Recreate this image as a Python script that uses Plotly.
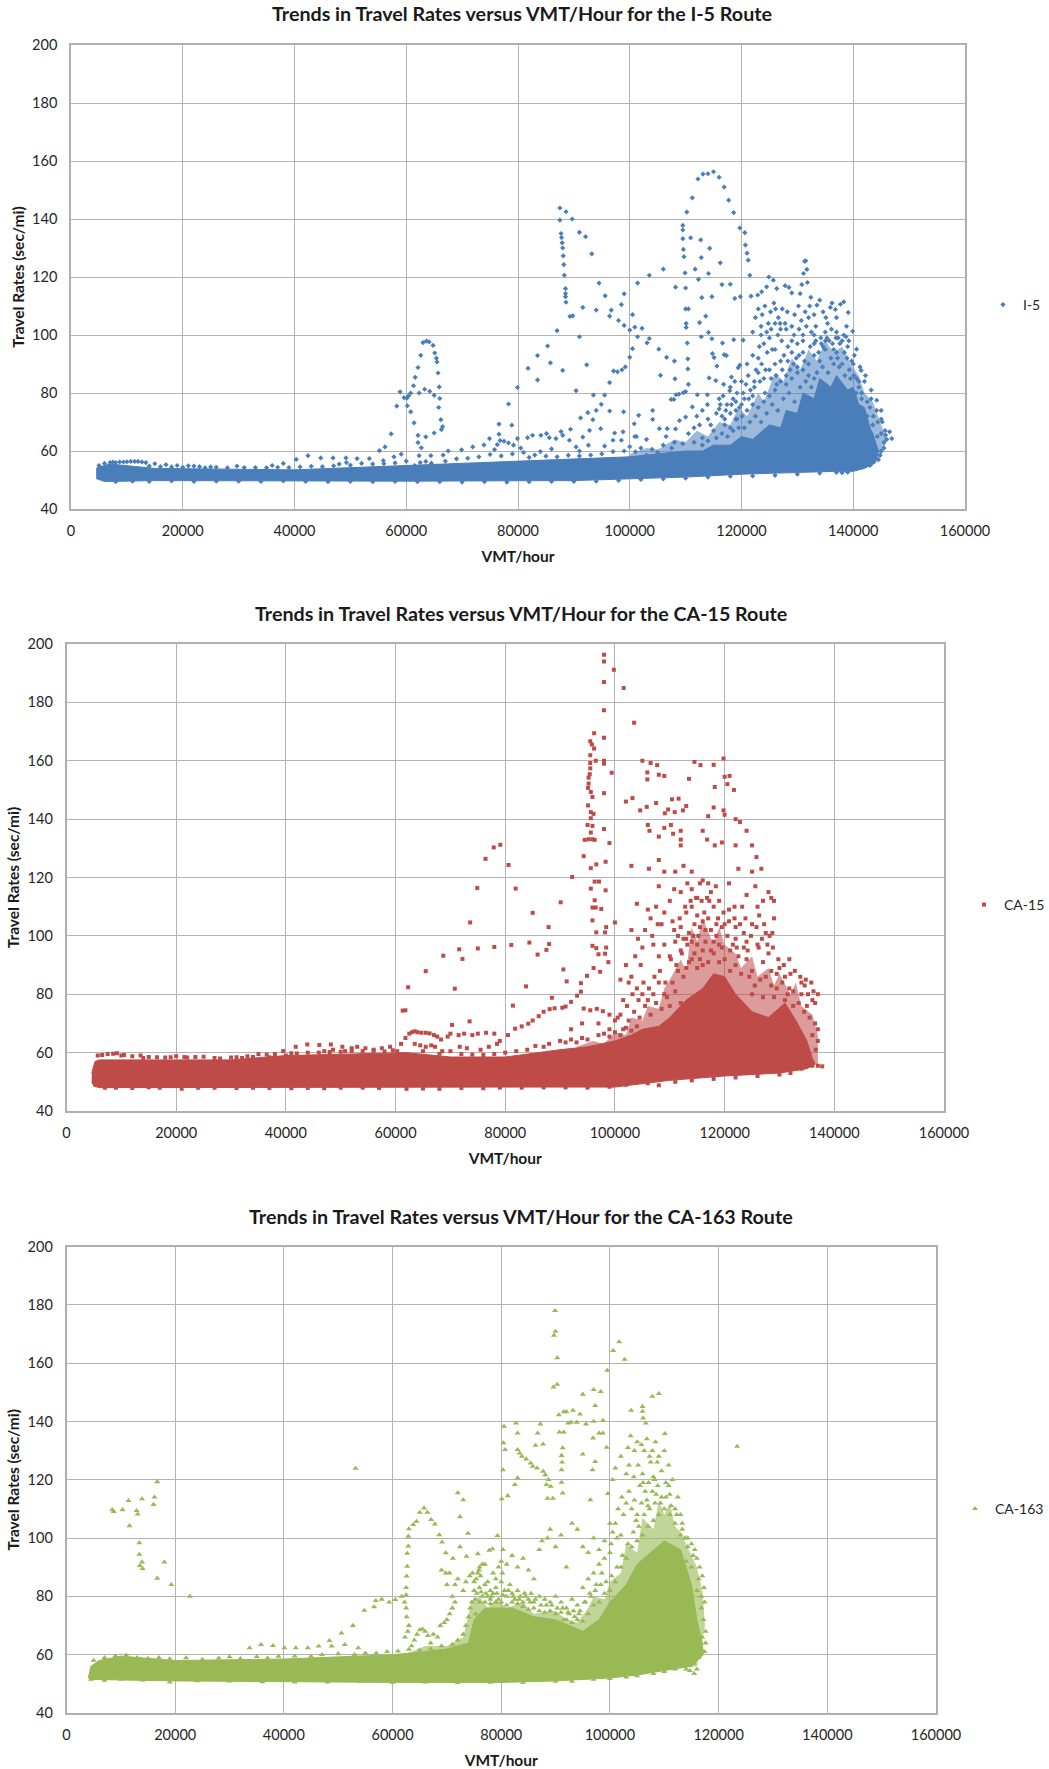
import plotly.graph_objects as go

W, H = 1049, 1769
x_ticks = [0, 20000, 40000, 60000, 80000, 100000, 120000, 140000, 160000]
y_ticks = [40, 60, 80, 100, 120, 140, 160, 180, 200]
x_title = "VMT/hour"
y_title = "Travel Rates (sec/mi)"

# ---------- I-5 (VMT in thousands, travel rate) ----------
i5_title = "Trends in Travel Rates versus VMT/Hour for the I-5 Route"
i5_core_x = [4.5, 5, 6, 7, 15, 40, 60, 80, 90, 100, 105, 110, 113, 115, 118, 120, 122, 125, 127, 128, 130, 131, 133, 134, 136, 137, 139, 140, 141, 142, 143, 143.5, 144.5, 144, 142, 140, 137, 130, 120, 110, 100, 90, 60, 40, 15, 7, 6, 4.5]
i5_core_y = [54, 54.5, 55, 55.5, 54, 53.5, 55, 56.5, 57, 58, 59, 60, 60, 62, 62, 65, 64, 69, 68, 74, 73, 80, 78, 85, 82, 86, 81, 82, 76, 75, 68, 66, 60, 56, 54, 53, 53, 52.5, 52, 51, 50.5, 49.8, 49.6, 49.8, 49.8, 49.5, 49.5, 50.5]
i5_halo_x = [100, 103, 105, 108, 110, 112, 114, 116, 118, 119.5, 121, 123, 124, 126, 127.5, 129, 130.5, 132, 133.5, 135, 136.5, 138, 139.5, 141, 142, 143.5, 145, 146, 145, 142, 130, 100]
i5_halo_y = [59, 61, 60.5, 64, 63, 67, 65, 70, 69, 75, 72, 80, 77, 87, 84, 92, 88, 95, 91, 98, 94, 96, 90, 86, 80, 77, 69, 64, 58, 55, 54, 52]
i5_points = [
(87.5,143.8),(88.6,142.5),(87.5,139.6),(89.7,140),(87.7,135),(87.8,133.6),(87.9,131.8),(88,130),(88.1,127.3),(88.2,124.3),(88.3,120.6),(91,135.4),(92.1,133.9),(93.2,128),
(88.5,116),(88.5,114.3),(88.5,113.2),(88.6,111.3),(94.5,117.9),(95.6,113.5),(99,114.2),(98.5,110.5),(91.6,109.5),(94,108.6),(96.7,108.6),(96.4,106.5),(89.3,106.4),(89.8,106.6),(98,105),(99,103.3),(87,101.5),(91,99.4),(100,101.7),(100.9,102.7),(102.2,102.3),(100.5,107),(101.4,117.9),(103.5,120.6),(106,122.7),(101.4,99.4),(103.5,98.8),(103.1,97.3),(100.5,95.3),(105.2,95.1),(85.3,96.2),(83.5,92.9),(81.8,88.5),(85.8,90.4),(88,87.8),(83.5,84.5),(92.3,89.7),(100,92.3),(99.2,89),(98.6,88),(97.8,87.3),(97.1,87.6),(96.4,83.6),(90.4,80.8),(106.6,92.3),(108,91),(105.5,86.1),(108.1,84.9),(107.4,77.8),(107.9,77.8),(108.3,79.4),(108.8,79.6),(109.6,80.1),(110,80.5),(110.5,83),(110.4,88.3),(110.4,91.8),(110.3,97.2),(110.1,102.6),(110.1,104),(110,109),(110.5,109),(110,116.2),(108.2,116.5),(109.9,121.4),(109.7,127),(109.6,129.5),(109.5,133.2),(109.5,136.2),(109.5,137.8),(110.2,142.4),(111.2,147.3),(112.2,153.8),(113.1,155.5),(114,155.6),(115,156.3),(116,154.4),(116.9,151),(117.7,146.5),(118.6,142.2),(119.7,136.9),(120.6,135.3),(120.7,131),(121,128.2),(121.2,125.8),(121.5,120.6),(110.9,133.5),(112.7,132.8),(112.8,126.7),(114.3,129.9),(116.2,124.9),(111.7,122.7),(114.1,121.2),(112.3,119.2),(112.9,112.9),(114.7,113.2),(116.5,117.4),(118,117.5),(118.8,112.6),(119.8,113.2),(113.6,106.5),(112.5,104.3),(114.1,100.9),(112.8,99.4),(114.7,98.7),(116.6,97.2),(118.6,98.4),(120.3,98.2),(114.8,93.6),(115.1,92.2),(116.9,93.2),(117.3,92.9),(115.6,89.3),(114.2,85.2),(115.4,84.3),(116.8,83),(119.7,89.6),(119.4,88.7),(118.2,85.5),(118.8,84),(121.7,113.4),(122.9,113.8),(123.6,114.9),(124.5,116.6),(124.9,120),(125.7,118.9),(126.3,116),(127.8,117),(128.5,116.4),(129,114.5),(130.5,114.3),(130.8,117.4),(131.8,118.1),(131.1,121.2),(131.7,122.6),(131.3,125.4),(131.5,125.6),(133.5,110.3),(135.9,109.5),(136.8,108.8),(137.7,110.6),(138.3,111.4),(139.1,107.8),(139.9,101.3),(138.7,99.4),(140.6,95.1),(141.4,87.8),(143.2,78),(144.2,77.5),(145,74),(146.5,66.6),(146.9,64.3),
(55.2,60.1),(56.2,61.4),(57.3,65.9),(58.3,75.5),(58.9,80.4),(59.6,78.4),(60.1,78.2),(60.2,75.6),(60.8,73.5),(61.4,69.7),(62.1,65.4),(62.1,62.9),(62.7,61.1),(63.5,64.9),(65,66.2),(66.3,67.4),(66.5,68.4),(66.2,70.8),(65.8,75),(66,78.1),(65.9,82.1),(65.7,86.9),(65.5,90.7),(65.4,92),(65.1,93.8),(64.8,96.4),(64.1,97.6),(63.6,97.9),(63,97.4),(62.6,93),(62.1,88.8),(61.6,85.4),(61.3,82.5),(60.8,80),(60.4,79),(62.3,80),(63.3,81.3),(64.2,80.6),(65,79.2),
(61.5,55),(62.5,56),(63.5,56.4),(64.5,55.8),(65.5,54.8),(38,55.7),(40.3,57.1),(42.4,58.4),(44.7,57.6),(46.9,57.6),(49.2,57.6),(49.3,56),(51.2,57.4),(53.4,57.4),(55.9,56.7),(57.8,58),(59.1,58.9),(62.3,58.4),(64.4,58.4),(66.6,58.6),(67.5,60),(69.9,60.4),(71.9,61.4),(73.9,62.1),(74.9,64.3),(76.6,69.3),(76.6,65.8),(78.3,76.2),(78.9,68.9),(79.9,81.9),(79.9,64.3),(75.8,60.5),(76.3,62.2),(76.8,63.6),(77.5,63.4),(78.3,62.8),(79.2,62),(80.5,61),
(7,56),(7.5,56.2),(8,56),(8.7,56.2),(9.4,56.2),(10,56.3),(10.7,56.4),(11.4,56.4),(12,56.4),(12.7,56.2),(13.4,56),(15,55.6),(17,55.3),(19,55),(22,54.8),(25,54.5),(29.7,54.8),(33,54.3),(36,55),
(81.7,64.6),(82.6,65.4),(84.1,65.4),(85.6,64.6),(86.8,64.3),(88,65.4),(89.2,63.7),(90.4,61.4),(91,60),(85.1,66),(89.4,67.5),(87.7,66.7),(92.8,67.1),(91.6,64.8),(94.8,67.7),(97.3,66.2),(98.8,66.6),(97,63.7),(98.5,63.7),(100.9,65),(101.2,65),(100.8,69.4),(101.6,72.3),(104.1,74),(104.1,70.9),(98.9,73.5),(96.4,73.8),(94.9,76.1),(94,74),(93.4,70.8),(92.5,73.2),(91.2,71.4),(93.5,79.3),(95.5,79.3),(105.3,67.7),(106.7,67.7),(108.2,67.6),(110,71.7),(111.2,75.2),(112.1,79.4),(113.9,79.4),(113.9,76),(116,74.5),(116.7,79),(117.9,80.8),(108.9,70.5),(106.5,65),(103,64),(100,61.5),(95.5,61.7),(92.6,62),(86,60.7),(84,59.8),(81,59.5),
(116.5,72),(117.4,76),(118,73),(118.5,78),(119.2,80),(119.6,75),(120.1,72),(120.5,78),(120.8,83),(121.2,86),(121.6,81),(122,76),(122.3,84),(122.6,88),(123,92),(123.2,96),(123.6,90),(124,85),(124.2,80),(124.6,94),(125,99),(125.3,102),(125.5,95),(126,90),(126.2,86),(126.5,100),(126.9,104),(127.2,98),(127.6,93),(128,102),(128.3,96),(128.7,88),(129,94),(129.4,100),(129.8,92),(130,97),(130.3,102),(130.7,105),(131,98),(131.4,108),(131.6,103),(132,106),(132.2,110),(132.5,101),(133,97),(133.3,103),(133.8,94),(134.2,99),(134.6,96),(135,101),(135.4,104),(135.7,98),(136.1,102),(136.5,95),(136.9,99),(137.2,92),(137.6,97),(138,90),(138.4,94),(138.9,92),(139.3,88),(139.7,91),(140.1,86),(140.6,85),(141,82),(141.5,80),(142,84),(142.5,77),(143,75),(143.6,72),(144.4,70),(145.2,70),(145.7,67),(146,64),(145.5,63),(145,60),(144.5,57),(143.5,56),(143,55),(141.8,54.6),(139,52.7),(138,52.5),
(122.5,106),(123,109),(123.7,107),(124.2,110),(125.2,108),(125.8,111),(126.6,106),(127.3,109),(128.2,108),(122,101),(123.5,100),(124.8,104),(126.1,109),(127.8,104),(129.5,107),(130.2,110),(132.4,113),(133,107),(134,112),(135.1,106),(136.2,111),(134.6,108),(137,106),(119,71),(117,69),(115,67),(113,64.5),(111.5,63),(114,71),(112.5,69),(109.5,62.5),(107.5,61),(105,59.5),(103,58.5),
(5,55),(6,55.7),(14,54.8),(16,54.6),(18,54.5),(20,54.4),(21,54.9),(23,54.6),(24,54.2),(26,54.4),(28,54.2),(31,54.3),(35,54.2),(37,54.4),(39,54.3),(41,54.5),(43,54.7),(45,54.6),(47,54.9),(48,55.5),(50,55.1),(52,55.7),(54,55.5),(56,55.6),(58,55.9),(60,56.5),(67,56.5),(69,57.3),(71,57.5),(73,58),(75,58.8),(77,58.3),(79,59),(82,57.8),(83,58.6),(85,58.2),(87,58),(89,58.5),(91,58.3),(93,58.6),(95,59),(97,59.8),(99,60),(101,59.7),(102,61),(104,60.6),(106,62),(108,63),
(8,49.4),(11,49.6),(14,49.5),(18,49.7),(22,49.5),(26,49.6),(30,49.6),(34,49.5),(38,49.7),(42,49.5),(46,49.4),(50,49.5),(54,49.4),(58,49.5),(62,49.4),(66,49.4),(70,49.3),(74,49.4),(78,49.3),(82,49.4),(86,49.5),(90,49.5),(94,49.6),(98,49.9),(102,50.2),(106,50.4),(110,50.6),(114,51),(118,51.3),(122,51.4),(126,51.6),(130,52),(134,52.4),(137,52.6),
(113,62),(114,63.5),(115.5,64.5),(116.5,66),(117.5,65),(118.5,67),(119.5,68),(120.5,68),(121.5,70),(122.5,72),(123.5,70),(124.5,73),(125.5,76),(126.5,74),(127.5,78),(128.5,80),(129.5,77),(130.5,82),(131.5,84),(132.5,82),(133.5,87),(134.5,89),(135.5,87),(136.5,90),(137.5,89),(138.5,86),(139.5,85),(140.5,80),(141.5,78),(142.5,72),(143.5,69),(144.3,65),(145,66),(145.8,65.5),(145.5,61),(144.8,58.5),
(118,82),(119,77),(120,84),(121,90),(122,93),(123,87),(124,97),(125,88),(126,95),(127,91),(128,86),(129,98),(130,89),(131,94),(132,90),(133,93),(134,91),(135,95),(136,92),(137,94),(138,98),(139,96),(140,90),(141,84),(123.5,103),(124.5,101),(126,104),(127,102),(129,103),(131,100),(133,100),(135,98),(137,101),(138.8,103),
(116,78),(117,71),(118,68),(119,74),(120,76),(121,74),(122,79),(123,75),(124,77),(125,79),(126,81),(127,84),(128,83),(129,85),(130,87),(131,88),(132,86),(133,85),
(110.5,66),(111.5,68),(112,72),(113,74),(114.5,69),(115.5,73),(116.2,76),(117.2,74),(118.2,76),(119.2,71),(120.3,80),(121.3,78),(122.3,82),(123.3,84),(124.3,88),(125.3,85),(126.3,83),(127.3,88),(128.3,91),(129.3,90),(130.3,93),(131.3,91),(132.3,96),(133.3,98),(134.3,97),(135.3,99),(136.3,97),(137.3,99),(138.3,100),(139.2,98),(140.2,93),(141.2,89),(142.2,86),(143.2,81),(144.2,74),(145,71)
]

# ---------- CA-15 ----------
ca15_title = "Trends in Travel Rates versus VMT/Hour for the CA-15 Route"
ca15_core_x = [4.6, 5.2, 6, 30, 40, 60, 62, 70, 80, 90, 95, 100, 103, 105, 108, 110, 113, 116, 118, 120, 122, 125, 128, 131, 133, 135, 136, 136.5, 135, 130, 120, 110, 100, 80, 60, 30, 10, 6, 5, 4.6]
ca15_core_y = [53, 57, 57.5, 57.5, 59, 60, 60, 58.5, 58.5, 61, 62, 64, 66, 68, 69, 72, 78, 82, 87, 86, 80, 74, 72, 77, 71, 64, 58, 56, 54.5, 53, 52, 50.5, 48.2, 48.2, 48.2, 48.2, 48.2, 48, 48.5, 50]
ca15_halo_x = [93, 96, 98, 100, 102, 103, 105, 106, 108, 109, 110, 112, 113, 114, 115, 116, 118, 119, 120, 122, 123, 125, 126, 128, 129, 130, 132, 133, 134, 136, 137, 137, 120, 100]
ca15_halo_y = [62, 64, 63, 67, 66, 72, 71, 76, 75, 82, 85, 92, 88, 103, 98, 106, 97, 103, 97, 94, 89, 93, 86, 89, 83, 87, 80, 84, 76, 73, 66, 56, 53, 50]
ca15_points = [
(98,196.3),(98,194),(99.8,191.2),(98,187),(101.6,184.9),(98,177.3),(103.5,173),(96.2,169.4),(98,167.9),(95.5,166.7),(95.8,165.6),(96.2,164.2),(95.5,161.9),(96.5,160),(98,160),(98,159),(99.4,155.9),(95.5,159.2),(95.5,157.4),(95.4,155.4),(95.2,154.2),(95.2,152.2),(95.1,150.7),(95.6,149.3),(95.9,147.6),(98,148.9),(95.1,144.7),(95.6,142.4),(96.1,141.8),(95.6,140.3),(95,138),(95.9,137.7),(95.6,135.4),(95.9,133.1),(94.5,132.9),(95.2,133.1),(96.3,132.9),(98,136.6),(99,131.8),(94.3,127.3),(95.6,123.2),(96.6,124.5),(98.3,125.4),(92.2,120.2),(96.3,118.6),(97.1,118.6),(95.6,116.2),(98.3,115.6),(96.3,112.2),(95.9,109.7),(96.5,109.7),(97.5,109.2),(95.9,105.3),(96.6,101.2),(98.2,101.2),(98.4,103),(100,104.6),(95.9,96.6),(96.6,95.8),(97,93.7),(98.4,96),(98.2,93.9),(98.8,91),(96.1,89),(97.3,87.7),(94.9,86.3),(93.8,83.8),(93.8,80.9),
(79.1,131.2),(77.9,130.3),(76.4,126.4),(80.6,124.3),(74.9,116.4),(81.9,116.2),(73.6,104.6),(85,107.9),(90.1,111.5),(87.9,103),(88,97.2),(84.4,97.7),(81.1,96.9),(78,96.2),(75,95.7),(71.6,95.4),(68.7,93.2),(72.2,92.1),(87.5,95.2),(85.9,93.6),(65.5,87.9),(90.6,88.5),(91.2,84.4),(62.3,82.4),(70.8,81.9),(83.8,82.7),(61.3,74.4),(81.4,76.1),(88.5,78.8),(61.8,74.5),
(80.5,66),(81.8,68.2),(83,69),(84.2,69.9),(85,71),(86.1,72.5),(87,74),(88.1,74.9),(89,75.2),(90.4,75.4),(91,75.8),(92,77.4),(93.1,79.5),(94.3,75.1),(95.5,74.5),(96.7,75),(97.8,74.2),(99,73),(100,71),(101,73),(97,70),(99,68),(101.5,68),(94,70),(92,68),
(60.3,60.5),(61,63),(61.8,65),(62.5,66.5),(63,67),(63.5,67.3),(64,67),(64.7,66.8),(65.5,66.8),(66.2,66.6),(67,66),(67.6,65.5),(68.3,64.5),(63.5,63),(64.5,62.5),(65.5,62),(66.5,62.5),(67.2,62),(68.5,60.5),(69.5,65.5),(70,66.5),(70.3,69.5),(71.5,66),(72.5,66.5),(73.5,70.7),(74,66),(75,66.5),(76.5,66.8),(78,66.5),(79,64),(70,60.5),(71.7,62),(73,61.5),(75.5,61),(77,62),(78.5,63),
(5.7,59),(6.5,59.2),(7.5,59.5),(8.5,59.6),(9.2,59.8),(10.5,59.2),(12,58.8),(13.5,59),(15,58.5),(16.5,58.4),(19,58.4),(21.5,58.5),(23.5,58.5),(27,58.2),(31,58.4),(33,58.8),(35,59.5),(36.5,59.3),(38,59.5),(39.5,60.5),(41,59.8),(41.8,62),(43.9,62.8),(46.1,62.6),(47,60.5),(48.2,62.8),(48.6,61),(50.3,62),(50.8,60.5),(52,61.5),(53,62),(54.5,61.5),(56,61),(57.5,61.5),(59,62),(59.5,60.8),
(105,160),(106.5,159.2),(107.7,158.5),(105.9,156),(108,155.2),(105.9,153.6),(109,154.8),(114.5,159.6),(115.6,158.5),(118,158.6),(119.8,160.8),(120,154.5),(120.9,154.8),(120.5,152),(121.7,150),(118.2,151),(113.5,153.8),(107.5,145.5),(109.7,143.3),(110.9,142.4),(110.4,146.8),(111.6,147),(103.2,147.2),(104.6,143),(105.8,144.2),(109.1,142),(113,144.5),(112.4,143),(120,141.5),(119.8,143),(122,140),(118,144),(117,141),(122.8,139),(124,136),
(102,146),(106,138),(106.3,136),(108,134),(109,137),(110.2,138),(110.6,135),(112,133),(112,136),(112,131),(116,136),(116.8,133),(118.2,131),(119.5,132),(122,131),(125,131),(125.8,127),(103,124),(106.2,123),(108,126),(109,122),(111,122),(112.5,124),(114,122),(116,119),(117,118),(122.5,123),(125,122),(126.7,123),(125.6,117),(128,115),(128.5,113),(108,117),(110,112),(112,115),(114,116),(115,113),(116.8,113),(118.4,117),(119,112),(120.8,118),(121.8,110),(124,114),(127,112),(129,112),
(104,111),(106,109),(106.5,106),(108.5,104),(109,108),(110.5,105),(112,103),(113,108),(114,110),(115,107),(116,105),(117,106),(118,110),(119.5,103),(120.8,109),(122,103),(123.5,101),(125,104),(126.3,107),(127.5,101),(128.7,101),(129,106),(103,102),(104.2,99),(105,96),(107,97),(108,93),(109,97),(110,93),(111,98),(112,95),(113,99),(114,92),(115,97),(116,90),(118,94),(119,97),(120,92),(121,95),(122,90),(124,92),(125,88),(127,91),(128.5,88),(129.5,87),(131,86),(131.8,82),(132.5,81),(134,84),(134.6,83),(135.2,80),(136,78),(136.5,77),(137,80),(102,90),(103,86),(101,85),(102.5,84),(104,82),(105,80),(106,78),(107,80),(108,84),(109,80),(110,76),(111,81),(112,77),
(10,59),(14,58.2),(18,58.3),(20,58.8),(22,58.3),(25,58.6),(28,58),(30,58.3),(32,58.2),(34,58.5),(37,58.4),(40,59),(42,59.7),(44,60),(46,60),(48,60.2),(50,60.3),(52,60.6),(54,60.5),(56,60.6),(58,60.4),(65,60.5),(68,59.6),(72,59.5),(74,59.3),(76,59.2),(78,59.5),(80,60),(82,60.5),(84,61),(85.5,62.3),(87,62),(88,63),(90,64),(91,63.5),(92,64.5),(93,63.5),(94,65),(95,64.5),(97,66),(98,66.5),(99,65.5),(100,67),(101,66),(102,68.5),(103,67.5),(104,69),
(7,48),(9,48),(12,47.9),(15,48.1),(17,48),(21,47.6),(24,48),(27,48),(31,47.9),(34,48),(37,47.9),(41,47.8),(44,47.9),(47,47.8),(50,48),(54,48),(57,47.9),(62,47.6),(65,47.7),(68,47.6),(72,47.9),(76,47.8),(79,48),(83,48),(87,48.1),(91,48.1),(95,48),(99,48.3),(102,49),(106,49.5),(108,48.8),(111,50),(114,50.5),(118,51),(122,51.5),(126,52),(130,52.5),(132,53),(134,54.5),(136,55.5),(137,55.5),(137.8,55.3),
(102.5,71),(103.5,74),(104.5,72),(105.5,76),(106.5,73),(107.5,77),(108.5,75),(109.5,79),(110.5,84),(111.5,88),(112.5,86),(113.5,91),(114.5,94),(115.5,92),(116.5,98),(117.5,95),(118.5,100),(119.5,96),(120.5,100),(121.5,97),(122.5,93),(123.5,96),(124.5,86),(125.5,83),(126.5,85),(127.5,86),(128.5,83),(129.5,82),(130.5,84),(131.5,80),(132.5,76),(133.5,77),(134.5,74),(135.5,72),(136.5,70),(137,68),(136,66),(137,64),(136.6,61),
(111.5,100),(112.5,99),(113.5,101),(114.5,104),(115.5,103),(116.5,102),(117.5,102),(118.5,104),(114,98),(116,95),(118,98),(120,104),(122,99),(124,98),(126,97),(128,94),(130,89),(132,87),(134,80),(135,76),(113,89),(115,89),(117,91),(119,91),(121,88),(123,87),(125,80),(127,79),(129,79),(131,78),
(100.5,72),(101.5,78),(102.2,76),(103.2,80),(104.3,78),(105.2,84),(106.2,82),(107.2,86),(108.2,88),(109.2,84),(110.2,92),(111.2,90),(112.2,94),(113.2,97),(114.3,100),(115.2,100),(116.3,108),(117.2,112),(115.8,112),(114.8,113),(113.8,112),(112.8,110),(111.8,106),(110.8,102),(118.8,106),(119.8,108),(120.8,105),(121.8,106),(122.8,104),(123.8,106),(124.8,100),(125.8,103),(126.8,99),(127.8,97),(128.8,96),(129.8,92),(130.8,90),(131.8,92),(132.8,88),(133.8,86),(134.8,85),(135.8,84),(136.2,81),(126.2,96),(124.2,95),(122.2,96),(128.2,100),(127.2,104),(126,110),(123.2,110),(117.5,115),(115.5,118),(113.2,118),(110.8,116),(107.5,110),(105.5,102),(104.7,90),(103.7,93),(106.8,100),(107.8,104)
]

# ---------- CA-163 ----------
ca163_title = "Trends in Travel Rates versus VMT/Hour for the CA-163 Route"
ca163_core_x = [4, 4.5, 6, 10, 20, 40, 60, 66, 70, 74, 75, 77, 79, 82, 86, 90, 95, 98, 100, 103, 105, 108, 110, 113, 115, 116, 117, 117.2, 116, 115, 113, 110, 105, 100, 90, 80, 60, 20, 5, 4]
ca163_core_y = [52, 56, 58, 59.5, 58, 58.5, 60, 61, 62, 64, 72, 76, 76, 76, 73, 72, 68, 72, 78, 84, 91, 96, 99, 96, 84, 72, 64, 60, 58, 56, 55.5, 54.5, 53, 52, 51, 50.5, 50.5, 51, 51.5, 52]
ca163_halo_x = [62, 66, 70, 73, 74.5, 76, 77.5, 79, 81, 84, 86, 90, 92, 94, 96, 97, 99, 100, 102, 103, 105, 106, 108, 109, 110, 111, 112, 113, 115, 116, 117, 117.5, 116, 100]
ca163_halo_y = [60, 63, 63, 66, 78, 80, 76, 79, 76, 78, 74, 75, 72, 71, 76, 80, 79, 85, 88, 98, 95, 107, 103, 113, 108, 112, 104, 102, 94, 90, 82, 70, 56, 52]
ca163_points = [
(89.9,178),(90,170.9),(89.7,169.5),(90.3,161.8),(89.6,151.8),(90.3,152.7),(101.7,167.3),(100.6,164.3),(102.7,161.3),(99.5,157.5),(95,149.3),(97,150.9),(98.3,150.2),(97.3,145.4),(107.8,148.6),(109,149.5),(106,145.1),(106,143.4),(106.1,141.1),(106.6,139.4),(103.9,143.8),(90.6,142.2),(91.5,143.3),(92,143.3),(93.2,143.8),(94.5,142.5),(92.3,139.4),(92.8,139.7),(93.9,139.7),(95.6,139.1),(97,140),(98.7,140.3),(80.5,138.3),(82.7,139.4),(83,136),(87.2,139.1),(86.7,136),(86.3,131.8),(87.7,132.2),(90.7,136.3),(91.5,136.3),(98,136),(98.7,136),(96.9,134.3),(99.4,131.1),(110.1,135.8),(123.4,131.4),(80.4,132.6),(80.7,130.3),(83,130.3),(83.4,129.1),(83.8,128),(84.6,127.1),(85.4,125.7),(85.8,124.6),(86.6,124),(87.7,122.9),(88.1,121.7),(88.7,120),(91.3,130.9),(91.1,128.3),(91.2,126),(91.1,123.4),(95,128.8),(97.3,126.2),(96.8,123.4),(80.3,123.4),(83,120.6),(82.5,118.3),(88.3,118.3),(89.1,117.7),(91.1,119.1),(91.3,115.4),(72,115.5),(73,113.1),(81.2,114.5),(80.1,113.4),(88.5,113.6),(89.5,113.6),(96.4,113.1),(99.6,115.2),(72.4,107.3),
(8.4,109.7),(8.7,109.1),(10.3,109.7),(11.4,112.8),(12.9,109.4),(13.1,108.2),(11.6,104.2),(13.9,113.4),(16.2,114),(16,111.5),(16.7,119.3),(13.4,98.3),(13.4,94.4),(13.9,91.7),(13.5,90.5),(14,89.5),(18,91.7),(16.7,86.2),(19.3,84),(22.7,80),(53.2,123.9),
(33.7,62.3),(35.8,63.4),(38,63.1),(40.1,62.3),(42.2,62.3),(44.4,62.3),(46.4,62.9),(48.4,64.8),(48.8,62.9),(50.6,67.4),(51.2,63.4),(52.7,70),(53.7,62.3),(54.8,75.2),(56.6,76.4),(56.9,78.5),(58,79),(59.4,78),(60.5,78.9),(61.7,80),(62.5,80.5),(62.5,83),(62.6,86.9),(62.7,90.3),(62.7,94.7),(62.9,97.2),(62.9,100.6),(63,103.1),(63.8,104.6),(64.4,105.7),(65,108.8),(65.8,110.3),(66.4,108.8),(67.1,106.3),(67.8,104.8),(68.6,101.1),(69.1,98.6),(69.8,94.9),(71.1,93),(73.9,101.6),(72.4,97),(73.6,93.7),(75.7,94.6),(77.8,95.8),(78.4,96.3),(79.3,100.8),
(62.2,78),(62.5,76),(62.6,73),(63,70),(62.3,66),(62.8,68),(63.5,63),(64,65),(64.5,67),(65,68.5),(65.5,68.8),(66,68),(66.5,66.5),(67,64),(67.5,67),(68.3,66),(68.8,70),(69.5,71),(70,72),(70.5,74),(71,76),(71.5,78),(71,80),(70,84),(70.5,88),(69.8,88),(69,89),(71.5,84),(72,86),(73,82),(73.5,85),(74.2,87),(74.7,88),(75,85),(75.4,86),(75.7,88),(75.9,89),(76,90),(76.2,87),(76.5,91),(77,91),(77.5,85),(78,82),(78.5,88),(79,86),(79.5,90),(80,92),
(74.6,78),(75,82),(75.5,81),(76,83),(76.5,80),(77,84),(77.5,80),(78,79),(78.5,81),(79,83),(79.5,79),(80,85),(80.6,82),(81,80),(81.6,84),(82,81),(82.5,79),(83,82),(83.5,80),(84,78),(84.5,80),(85,79),(85.5,81),(86,78),(87,80),(88,79),(89,78),(90,80),(91,78),(92,76),(93,79),(94,77),(95,83),(96,86),(97,88),(98,91),(99,93),
(80.2,88),(80.3,96),(81,91),(82,94),(83,90),(84,93),(85,89),(86,86),(87,96),(87.5,99),(88.5,100),(89,103),(90,97),(91,101),(92,90),(93,105),(94,103),(95,97),(96,95),(97,100),(98,96),(99,99),(100,95),(100.5,102),(101,105),(102,101),(102.5,108),(103,112),(103.5,116),(104,110),(104.5,113),(105,108),(105.5,118),(106,122),(106.5,116),(107,111),(107.5,126),(108,121),(108.5,115),(109,128),(109.5,123),(110,130),(110.3,119),(110.8,125),(111,115),(111.5,120),(112,110),(112.5,114),(113,108),(113.3,103),(113.8,100),(114.3,97),(115,98),(115.6,96),(116,93),(116.5,90),(117,87),(117.3,83),(117.4,78),(116.8,76),(117.2,72),(117.6,68),(116.5,64),(116.3,59),(115.5,57),
(100.5,120),(101,124),(102,128),(103,122),(103.3,131),(103.8,135),(104.5,130),(105,133),(105.8,132),(106.3,130),(106.8,134),(107.3,128),(107.8,130),(108.4,133),(108.7,126),(109.5,114),(103.5,125),(104.4,121),(105.2,125),(106.1,119),(107.1,119),(108.2,120),(100,105),(101.5,110),(102.2,114),(101.3,100),(100.2,98),(98.5,88),(97.5,84),(96.5,80),(95.5,78),(94.5,75),(93.5,73),(92.5,74),(91.5,72),
(5,58),(7,59),(9,59.6),(11,59.8),(13,59),(15,58.7),(17,59),(19,58.5),(22,58.9),(25,58.4),(28,58.8),(30,59.2),(32,58.6),(35,59.3),(37,58.8),(39,59.4),(42,59.5),(45,59.4),(47,60),(50,60.3),(53,60),(55,60.5),(57,60.5),(59,61),(61,61.2),(63,61.8),(65,61.5),(67,62),(69,63),(71,63.5),(72,65),(73,67),(73.5,70),(74,73),(74.3,76),
(4.5,51.5),(7,51.2),(10,51.5),(14,51.3),(19,50.6),(24,51),(30,50.9),(36,50.7),(42,50.6),(48,50.6),(54,50.8),(60,50.5),(66,50.6),(72,50.4),(78,50.5),(84,50.5),(90,50.8),(93,50.8),(97,51.5),(100,51.8),(103,52.3),(105,52.7),(108,53.5),(110,54.2),(112,55),(114,55),(114.7,54.5),(115.5,53.5),(116,55),
(75.3,74),(76,78),(77,78),(78,77.5),(79,78),(80,78),(81,77),(82,78),(83,77.5),(84,76.5),(85,75.5),(86,76),(87,75),(88,74.5),(89,75),(90,74),(91,74.5),(92,72),(93,71),(94,72),(95,71.5),(96,74),(97,77),(98,78),(99,81),(100,82),(101,85),(102,90),(103,93),(104,97),(105,99),(106,101),(107,104),(108,106),(109,108),(110,110),(111,108),(112,105),(113,101),(114,92),(115,90),(116,82),(116.8,80),(117,66),(117.6,64),(117.4,61),
(75.2,79),(76.3,81.5),(77.2,81),(78.2,80),(79.2,81),(80.3,80.5),(81.3,82),(82.2,80),(83.3,79),(84.3,81),(85.3,78),(86.3,79),(87.3,77),(88.3,77),(89.3,77),(90.3,76),(91.3,76),(92.3,74.5),(93.3,75),(94.3,74),(95.3,78),(96.3,81),(97.3,82),(98.3,84),(99.3,85),(100.3,87),(101.3,90),(102.3,94),(103.3,98),(104.3,102),(105.3,104),(106.3,108),(107.3,110),(108.3,112),(109.3,112),(110.3,114),(111.3,111),(112.3,108),(113.3,105),(114.3,100),(115.3,94),(116.3,86),(104.8,106),(106.8,113),(108.8,118),(110.8,118),(107.8,116),(105.8,112)
]

colors = {"I-5": "#4a7ebb", "CA-15": "#be4b48", "CA-163": "#98b954"}

panels = [
    dict(name="I-5", title=i5_title, pts=i5_points, cx=i5_core_x, cy=i5_core_y, hx=i5_halo_x, hy=i5_halo_y,
         box=(71, 965, 45, 509), sym="diamond", size=4, tx=522, ty=14, lx=983, ly=305, halo="rgba(74,126,187,0.55)"),
    dict(name="CA-15", title=ca15_title, pts=ca15_points, cx=ca15_core_x, cy=ca15_core_y, hx=ca15_halo_x, hy=ca15_halo_y,
         box=(66.5, 944, 644, 1111), sym="square", size=4, tx=521, ty=614, lx=964, ly=905, halo="rgba(190,75,72,0.55)"),
    dict(name="CA-163", title=ca163_title, pts=ca163_points, cx=ca163_core_x, cy=ca163_core_y, hx=ca163_halo_x, hy=ca163_halo_y,
         box=(66.5, 936, 1246.5, 1713), sym="triangle-up", size=5.4, tx=521, ty=1216, lx=955, ly=1509, halo="rgba(152,185,84,0.6)"),
]

FONT = "Lato, 'Open Sans', sans-serif"
fig = go.Figure()
layout = dict(width=W, height=H, margin=dict(l=0, r=0, t=0, b=0, autoexpand=False), paper_bgcolor="white", plot_bgcolor="white",
              font=dict(family=FONT, size=14, color="#262626"), annotations=[], autosize=False)

for i, p in enumerate(panels):
    n = "" if i == 0 else str(i + 1)
    xa, ya = "x" + n, "y" + n
    c = colors[p["name"]]
    fig.add_trace(go.Scatter(x=[v * 1000 for v in p["hx"]], y=p["hy"], xaxis=xa, yaxis=ya, mode="lines", fill="toself",
                             fillcolor=p["halo"], line=dict(width=0), hoverinfo="skip", showlegend=False))
    fig.add_trace(go.Scatter(x=[v * 1000 for v in p["cx"]], y=p["cy"], xaxis=xa, yaxis=ya, mode="lines", fill="toself",
                             fillcolor=c, line=dict(width=1, color=c), hoverinfo="skip", showlegend=False))
    fig.add_trace(go.Scatter(x=[q[0] * 1000 for q in p["pts"]], y=[q[1] for q in p["pts"]], xaxis=xa, yaxis=ya,
                             mode="markers", name=p["name"], legend="legend" + n,
                             marker=dict(symbol=p["sym"], size=p["size"], color=c, line=dict(width=0))))
    x0, x1, yt, yb = p["box"]
    axis_common = dict(showline=True, linecolor="#b0b0b0", linewidth=1.5, mirror=True, showgrid=True, gridcolor="#b3b3b3",
                       gridwidth=1.4, ticks="", zeroline=False, automargin=False, tickfont=dict(size=14.5, color="#262626", family=FONT))
    layout["xaxis" + n] = dict(domain=[x0 / W, x1 / W], range=[0, 160000], tickvals=x_ticks, tickformat="d", anchor=ya, ticklabelstandoff=8,
                               title=dict(text="<b>" + x_title + "</b>", font=dict(size=15.5, color="#1a1a1a"), standoff=13), **axis_common)
    layout["yaxis" + n] = dict(domain=[1 - yb / H, 1 - yt / H], range=[40, 200], tickvals=y_ticks, anchor=xa, ticklabelstandoff=9,
                               title=dict(text="<b>" + y_title + "</b>", font=dict(size=15.5, color="#1a1a1a"), standoff=4), **axis_common)
    layout["legend" + n] = dict(x=p["lx"] / W, y=1 - p["ly"] / H, xanchor="left", yanchor="middle", bgcolor="rgba(0,0,0,0)",
                                font=dict(size=14, color="#262626"), itemsizing="trace", itemwidth=30, tracegroupgap=0)
    layout["annotations"].append(dict(text="<b>" + p["title"] + "</b>", x=p["tx"] / W, y=1 - p["ty"] / H, xref="paper", yref="paper",
                                      xanchor="center", yanchor="middle", showarrow=False, font=dict(size=19.7, color="#1a1a1a")))

fig.update_layout(**layout)
fig.write_html("out.html", post_script="document.body.style.margin='0';document.body.style.overflow='hidden';",
               config={"displayModeBar": False})
